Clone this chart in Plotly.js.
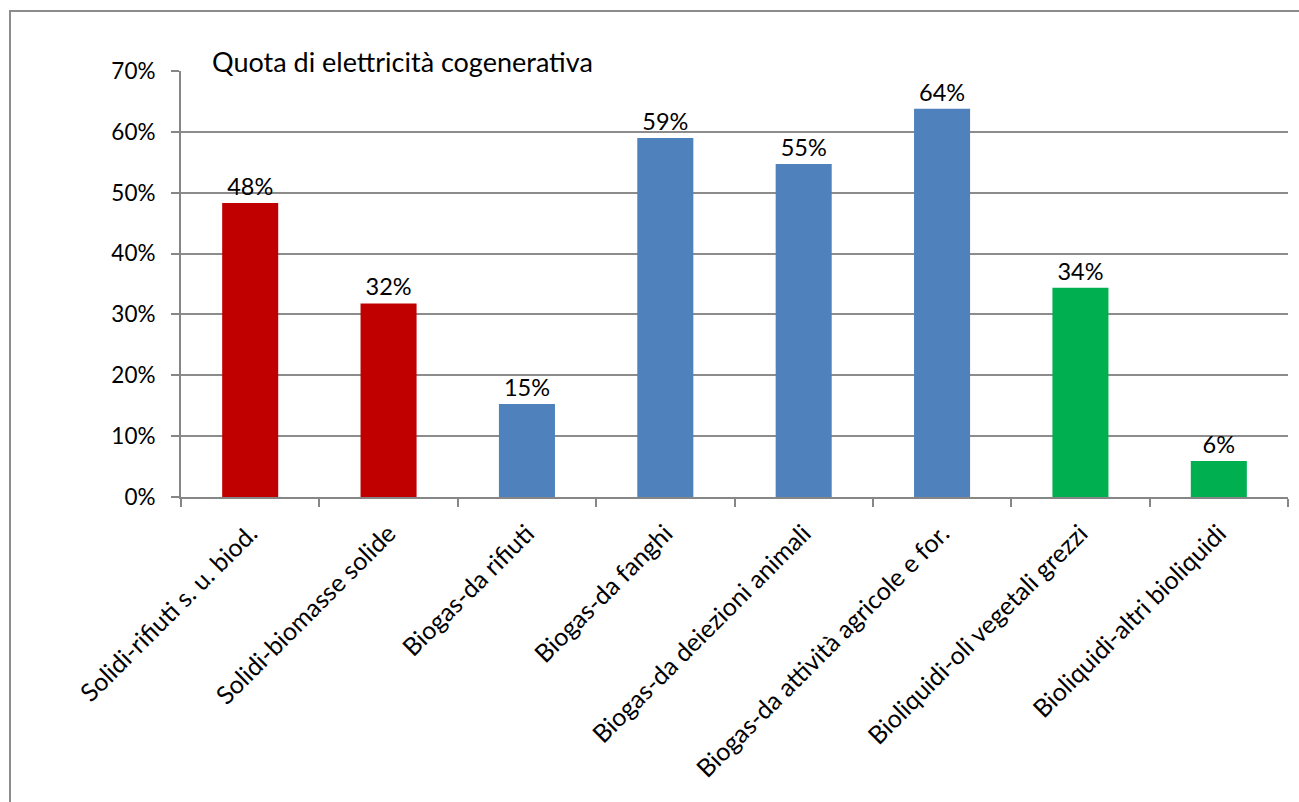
<!DOCTYPE html>
<html>
<head>
<meta charset="utf-8">
<script src="https://cdn.plot.ly/plotly-3.0.1.min.js"></script>
<style>
  html, body { margin: 0; padding: 0; background: #fff; overflow: hidden; width: 1299px; height: 802px; }
  #chart { position: absolute; left: 0; top: 0; width: 1299px; height: 802px; }
  #frame { position: absolute; left: 9px; top: 10px; width: 1400px; height: 900px; border: 2px solid #8c8c8c; pointer-events: none; }
</style>
</head>
<body>
<div id="chart"></div>
<div id="frame"></div>
<script>
const categories = [
  "Solidi-rifiuti s. u. biod.",
  "Solidi-biomasse solide",
  "Biogas-da rifiuti",
  "Biogas-da fanghi",
  "Biogas-da deiezioni animali",
  "Biogas-da attività agricole e for.",
  "Bioliquidi-oli vegetali grezzi",
  "Bioliquidi-altri bioliquidi"
];
const shares = [0.483, 0.318, 0.153, 0.590, 0.547, 0.638, 0.344, 0.059];
const barColors = ["#C00000", "#C00000", "#4F81BD", "#4F81BD", "#4F81BD", "#4F81BD", "#00B050", "#00B050"];
const yTicks = [0, 0.1, 0.2, 0.3, 0.4, 0.5, 0.6, 0.7];
const chartTitle = "Quota di elettricità cogenerativa";

const font = "Lato, 'Open Sans', sans-serif";

Plotly.newPlot("chart", [{
  type: "bar",
  x: categories,
  y: shares,
  marker: { color: barColors, line: { width: 0 } },
  width: 0.405,
  text: shares.map(v => Math.round(v * 100) + "%"),
  textposition: "outside",
  cliponaxis: false,
  textfont: { family: font, size: 23.5, color: "#000" },
  hoverinfo: "skip"
}], {
  width: 1299,
  height: 802,
  margin: { l: 181, r: 11, t: 71, b: 305 },
  paper_bgcolor: "#fff",
  plot_bgcolor: "#fff",
  showlegend: false,
  font: { family: font, size: 22, color: "#000" },
  xaxis: {
    type: "category",
    tickangle: -45,
    showgrid: false,
    showline: true,
    linecolor: "#868686",
    linewidth: 2,
    ticks: "outside",
    ticklen: 8,
    tickwidth: 2,
    tickcolor: "#868686",
    tickson: "boundaries",
    ticklabelstandoff: 10,
    tickfont: { family: font, size: 25, color: "#000" },
    fixedrange: true
  },
  yaxis: {
    range: [0, 0.7],
    tickvals: yTicks,
    tickformat: ".0%",
    showgrid: true,
    gridcolor: "#8c8c8c",
    gridwidth: 2,
    showline: true,
    linecolor: "#868686",
    linewidth: 2,
    ticks: "outside",
    ticklen: 8,
    tickwidth: 2,
    tickcolor: "#868686",
    ticklabelstandoff: 11,
    zeroline: false,
    tickfont: { family: font, size: 22.5, color: "#000" },
    fixedrange: true
  },
  annotations: [{
    text: chartTitle,
    xref: "paper", yref: "paper",
    x: 0.026, y: 1,
    xanchor: "left", yanchor: "bottom",
    yshift: -9,
    showarrow: false,
    font: { family: font, size: 27, color: "#000" }
  }]
}, { staticPlot: true, displayModeBar: false });
</script>
</body>
</html>
